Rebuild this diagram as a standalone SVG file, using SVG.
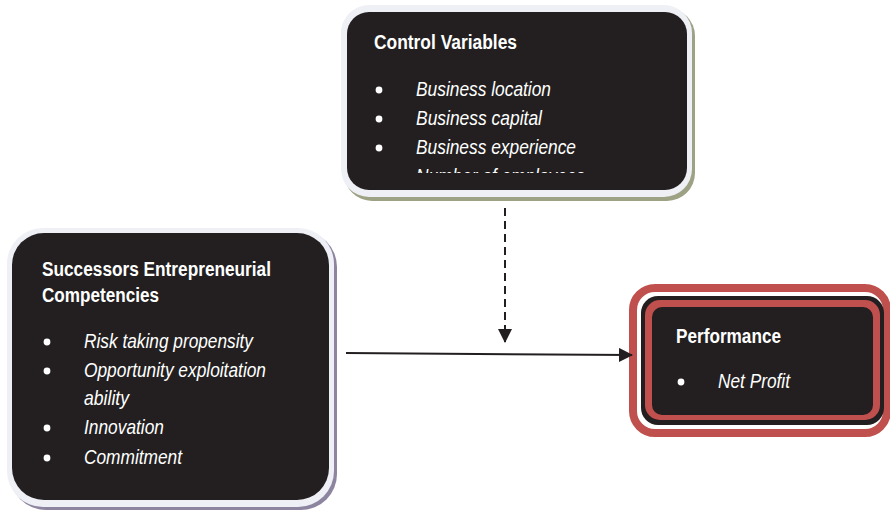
<svg xmlns="http://www.w3.org/2000/svg" width="890" height="512" viewBox="0 0 890 512">
<defs>
<style>
.fill{fill:#231f20}
.ttl{font-family:"Liberation Sans",Arial,sans-serif;font-weight:bold;font-size:20px;fill:#ffffff}
.itm{font-family:"Liberation Sans",Arial,sans-serif;font-style:italic;font-size:21px;fill:#ffffff}
.bul{fill:#ffffff}
.edge{stroke:#231f20;stroke-width:2;fill:none}
</style>
<marker id="ah" markerWidth="14" markerHeight="14" viewBox="0 0 14 14" refX="13" refY="7" orient="auto" markerUnits="userSpaceOnUse">
<path d="M0,0 L14,7 L0,14 Z" fill="#231f20"/>
</marker>
<clipPath id="cvclip"><rect x="347" y="12" width="340" height="161"/></clipPath>
</defs>
<g id="control">
<rect x="344" y="8" width="351" height="193" rx="28" fill="#9ca283"/>
<rect x="341" y="5" width="351" height="192" rx="28" fill="#eef0f5"/>
<rect class="fill" x="347" y="12" width="340" height="178" rx="22"/>
<text class="ttl" x="374" y="49" textLength="143" lengthAdjust="spacingAndGlyphs">Control Variables</text>
<g clip-path="url(#cvclip)">
<circle class="bul" cx="379" cy="90" r="3.4"/>
<circle class="bul" cx="379" cy="119" r="3.4"/>
<circle class="bul" cx="379" cy="148" r="3.4"/>
<circle class="bul" cx="379" cy="177" r="3.4"/>
<text class="itm" x="416" y="96" textLength="135" lengthAdjust="spacingAndGlyphs">Business location</text>
<text class="itm" x="416" y="125" textLength="126" lengthAdjust="spacingAndGlyphs">Business capital</text>
<text class="itm" x="416" y="154" textLength="160" lengthAdjust="spacingAndGlyphs">Business experience</text>
<text class="itm" x="416" y="183" textLength="169" lengthAdjust="spacingAndGlyphs">Number of employees</text>
</g>
</g>
<g id="successors">
<rect x="10" y="231" width="327" height="279" rx="36" fill="#8d84a0"/>
<rect x="7" y="228" width="327" height="279" rx="36" fill="#eef0f5"/>
<rect class="fill" x="12" y="233" width="317" height="267" rx="32"/>
<text class="ttl" x="42" y="276" textLength="229" lengthAdjust="spacingAndGlyphs">Successors Entrepreneurial</text>
<text class="ttl" x="42" y="302" textLength="117" lengthAdjust="spacingAndGlyphs">Competencies</text>
<circle class="bul" cx="47" cy="342" r="3.4"/>
<circle class="bul" cx="47" cy="371" r="3.4"/>
<circle class="bul" cx="47" cy="428" r="3.4"/>
<circle class="bul" cx="47" cy="458" r="3.4"/>
<text class="itm" x="84" y="348" textLength="169" lengthAdjust="spacingAndGlyphs">Risk taking propensity</text>
<text class="itm" x="84" y="377" textLength="182" lengthAdjust="spacingAndGlyphs">Opportunity exploitation</text>
<text class="itm" x="84" y="405" textLength="45" lengthAdjust="spacingAndGlyphs">ability</text>
<text class="itm" x="84" y="434" textLength="80" lengthAdjust="spacingAndGlyphs">Innovation</text>
<text class="itm" x="84" y="464" textLength="98" lengthAdjust="spacingAndGlyphs">Commitment</text>
</g>
<g id="performance">
<rect x="633" y="288" width="254" height="145" rx="22" fill="none" stroke="#c0504d" stroke-width="8"/>
<rect x="641" y="296" width="243" height="129" rx="17" fill="#231f20"/>
<rect x="645" y="300" width="235" height="120" rx="15" fill="#c0504d"/>
<rect class="fill" x="652" y="307" width="221" height="108" rx="10"/>
<text class="ttl" x="676" y="343" textLength="105" lengthAdjust="spacingAndGlyphs">Performance</text>
<circle class="bul" cx="681" cy="382" r="3.4"/>
<text class="itm" x="718" y="388" textLength="72" lengthAdjust="spacingAndGlyphs">Net Profit</text>
</g>
<g id="connectors">
<line class="edge" x1="505" y1="208" x2="505" y2="342" stroke-width="2.5" stroke-dasharray="8,5" marker-end="url(#ah)"/>
<line class="edge" x1="346" y1="353" x2="632" y2="355" marker-end="url(#ah)"/>
</g>
</svg>
